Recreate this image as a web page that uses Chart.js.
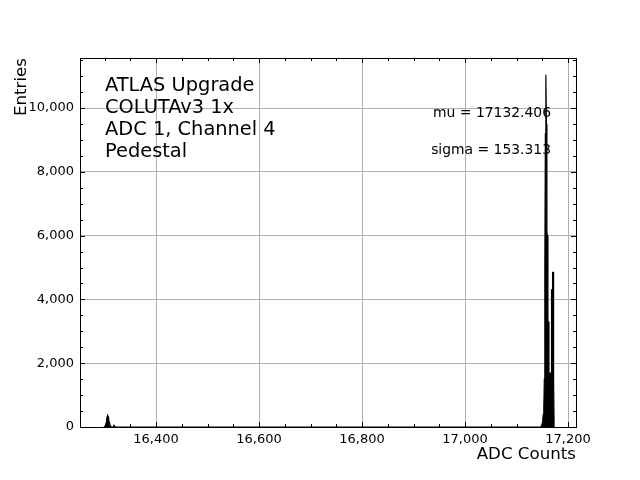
<!DOCTYPE html>
<html>
<head>
<meta charset="utf-8">
<script src="https://cdn.jsdelivr.net/npm/chart.js@4.4.1/dist/chart.umd.min.js"></script>
<style>
html,body{margin:0;padding:0;background:#fff;}
canvas{display:block;}
</style>
</head>
<body>
<canvas id="c" width="640" height="480"></canvas>
<script>
// ---- data ----
const adcCounts = [
  16299,16300,16301,16302,16303,16304,16305,16306,16307,16308,16309,16310,16311,16312,16313,16314,
  16317,16318,16319,16320,
  17147,17148,17149,17150,17151,17152,17153,17154,17155,17156,17157,17158,17159,17160,
  17161,17162,17163,17164,17165,17166,17167,17168,17169,17170,17171,17172,17173
];
const entries = [
  0,15,30,60,120,220,320,360,330,250,160,90,45,20,8,0,
  0,50,40,0,
  0,30,60,120,250,400,600,1500,5000,9200,11042,9500,6100,6000,
  3300,3300,1700,1100,1700,1100,1700,4300,4300,4850,4850,1500,0
];
const xTickValues = [16400,16600,16800,17000,17200];
const yTickValues = [0,2000,4000,6000,8000,10000];
const xMinorValues = [];
for (let v = 16300; v <= 17200; v += 50) xMinorValues.push(v);
const yMinorValues = [];
for (let v = 500; v <= 11500; v += 500) yMinorValues.push(v);
const xRange = [16252.4, 17215.5];
const yRange = [0, 11570];
const infoLines = ["ATLAS Upgrade", "COLUTAv3 1x", "ADC 1, Channel 4", "Pedestal"];
const statLines = ["mu = 17132.406", "sigma = 153.313"];
const xTitle = "ADC Counts";
const yTitle = "Entries";

const FONT = "'DejaVu Sans', 'Liberation Sans', sans-serif";
Chart.defaults.color = '#000';
Chart.defaults.font.family = FONT;

const fmt = v => Number(v).toLocaleString('en-US');

const decorPlugin = {
  id: 'decor',
  afterDatasetsDraw(chart) {
    const ctx = chart.ctx;
    const a = chart.chartArea;
    const xs = chart.scales.x, ys = chart.scales.y;
    ctx.save();
    // ticks (inward, all four sides)
    ctx.strokeStyle = '#000';
    ctx.lineWidth = 1;
    ctx.beginPath();
    const major = 5, minor = 3;
    xTickValues.forEach(v => {
      const p = Math.round(xs.getPixelForValue(v)) + 0.5;
      ctx.moveTo(p, a.bottom); ctx.lineTo(p, a.bottom - major);
      ctx.moveTo(p, a.top); ctx.lineTo(p, a.top + major);
    });
    xMinorValues.forEach(v => {
      if (xTickValues.includes(v)) return;
      const p = Math.round(xs.getPixelForValue(v)) + 0.5;
      ctx.moveTo(p, a.bottom); ctx.lineTo(p, a.bottom - minor);
      ctx.moveTo(p, a.top); ctx.lineTo(p, a.top + minor);
    });
    yTickValues.forEach(v => {
      const p = Math.round(ys.getPixelForValue(v)) + 0.5;
      ctx.moveTo(a.left, p); ctx.lineTo(a.left + major, p);
      ctx.moveTo(a.right, p); ctx.lineTo(a.right - major, p);
    });
    yMinorValues.forEach(v => {
      if (yTickValues.includes(v)) return;
      const p = Math.round(ys.getPixelForValue(v)) + 0.5;
      ctx.moveTo(a.left, p); ctx.lineTo(a.left + minor, p);
      ctx.moveTo(a.right, p); ctx.lineTo(a.right - minor, p);
    });
    ctx.stroke();
    // spines
    ctx.lineWidth = 1;
    ctx.strokeRect(Math.round(a.left) + 0.5, Math.round(a.top) + 0.5,
                   Math.round(a.right - a.left), Math.round(a.bottom - a.top));
    // annotation text
    ctx.fillStyle = '#000';
    ctx.textBaseline = 'middle';
    ctx.textAlign = 'left';
    ctx.font = "19.4px " + FONT;
    infoLines.forEach((t, i) => ctx.fillText(t, a.left + 25, a.top + 28 + i * 22));
    ctx.font = "13.9px " + FONT;
    ctx.textAlign = 'right';
    ctx.fillText(statLines[0], a.right - 25, a.top + 55);
    ctx.fillText(statLines[1], a.right - 25, a.top + 92);
    ctx.restore();
  }
};

new Chart(document.getElementById('c'), {
  type: 'line',
  data: {
    datasets: [{
      data: adcCounts.map((x, i) => ({x: x, y: entries[i]})),
      borderColor: '#000',
      backgroundColor: '#000',
      borderWidth: 1.2,
      pointRadius: 0,
      fill: 'origin',
      tension: 0
    }]
  },
  options: {
    responsive: false,
    animation: false,
    events: [],
    layout: { padding: { top: 58, right: 64, left: 0, bottom: 0 } },
    plugins: { legend: { display: false }, tooltip: { enabled: false } },
    scales: {
      x: {
        type: 'linear',
        min: xRange[0], max: xRange[1],
        afterBuildTicks: s => { s.ticks = xTickValues.map(v => ({value: v})); },
        afterFit: s => { s.height = 53; },
        ticks: { callback: fmt, maxRotation: 0, autoSkip: false, padding: 5, font: { size: 13 }, color: '#000' },
        grid: { color: '#b0b0b0', lineWidth: 1, drawTicks: false },
        border: { display: false },
        title: { display: true, text: xTitle, align: 'end', font: { size: 16.67 }, color: '#000', padding: { top: 0, bottom: 15 } }
      },
      y: {
        type: 'linear',
        min: yRange[0], max: yRange[1],
        afterBuildTicks: s => { s.ticks = yTickValues.map(v => ({value: v})); },
        afterFit: s => { s.width = 80; },
        ticks: { callback: fmt, autoSkip: false, padding: 6, font: { size: 13 }, color: '#000' },
        grid: { color: '#b0b0b0', lineWidth: 1, drawTicks: false },
        border: { display: false },
        title: { display: true, text: yTitle, align: 'end', font: { size: 16.67 }, color: '#000', padding: { top: 12, bottom: 0 } }
      }
    }
  },
  plugins: [decorPlugin]
});
</script>
</body>
</html>
